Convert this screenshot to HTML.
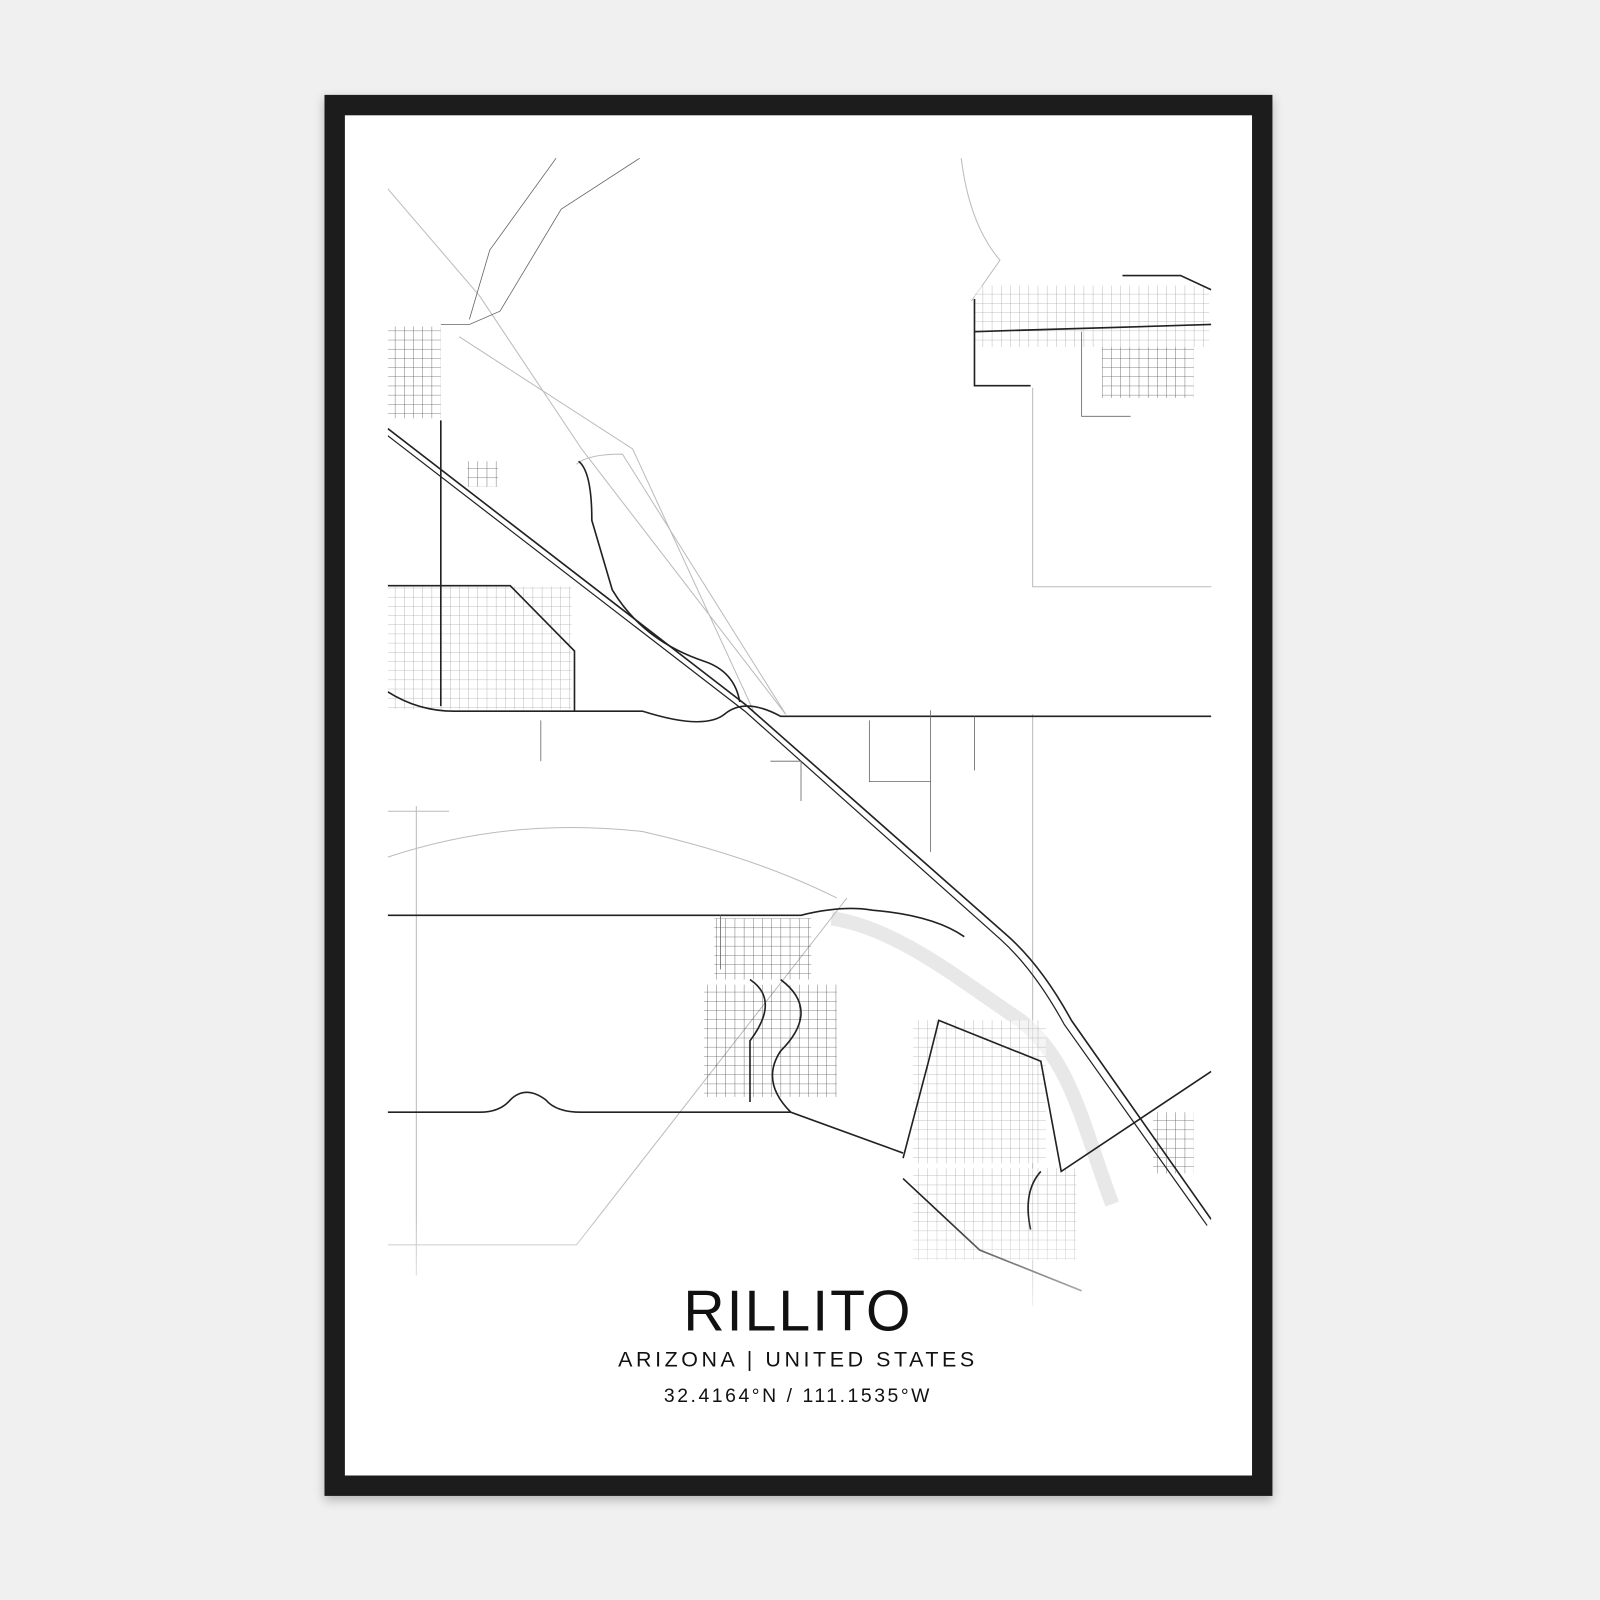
<!DOCTYPE html>
<html><head><meta charset="utf-8"><style>
html,body{margin:0;padding:0;background:#f0f0f0;width:1600px;height:1600px;overflow:hidden}
#w{position:absolute;left:0;top:0;width:1568px;height:1568px;transform:scale(1.0204);transform-origin:0 0}
.frame{position:absolute;left:318px;top:93px;width:929px;height:1373px;background:#1c1c1c;box-shadow:0 4px 10px rgba(0,0,0,.25)}
.paper{position:absolute;left:338px;top:113px;width:889px;height:1333px;background:#fff}
svg{position:absolute;left:0;top:0}
.t{position:absolute;left:0;width:1564px;text-align:center;font-family:"Liberation Sans",sans-serif;color:#111}
</style></head><body><div id="w">
<div class="frame"></div><div class="paper"></div>
<svg width="1568" height="1568" viewBox="0 0 1568 1568">
<defs><linearGradient id="fade" x1="0" y1="0" x2="0" y2="1"><stop offset="0" stop-color="#fff" stop-opacity="0"/><stop offset="1" stop-color="#fff" stop-opacity="1"/></linearGradient>
<pattern id="grid" width="9" height="9" patternUnits="userSpaceOnUse"><path d="M0 0H9M0 0V9" stroke="#444" stroke-width="0.8" fill="none"/></pattern>
<clipPath id="c"><rect x="380" y="155" width="807" height="1160"/></clipPath></defs>
<g clip-path="url(#c)">
<path d="M815 900 C880 910 940 960 1000 1000 C1050 1040 1060 1100 1090 1180" stroke="#e8e8e8" stroke-width="14" fill="none"/>
<g stroke="#bbb" stroke-width="1" fill="none">
<path d="M380 185 L470 290 L570 440 L770 700"/>
<path d="M450 330 L620 440 L740 700"/>
<path d="M565 455 Q575 445 610 445 L770 700"/>
<path d="M1012 700 V1280"/><path d="M1012 380 V575 H1190"/>
<path d="M380 1220 H565 L830 880"/>
<path d="M408 790 V1250"/><path d="M380 795 H440"/>
<path d="M380 840 Q500 800 630 815 Q740 840 820 880"/>
<path d="M942 155 Q950 220 980 255 L952 295"/>
</g>
<g fill="url(#grid)" opacity="0.9">
<rect x="380" y="320" width="52" height="90"/>
<rect x="380" y="575" width="180" height="120"/>
<rect x="700" y="900" width="95" height="60"/>
<rect x="690" y="965" width="130" height="110"/>
<rect x="895" y="1000" width="130" height="140"/>
<rect x="895" y="1145" width="160" height="90"/>
<rect x="955" y="280" width="230" height="60"/>
<rect x="1080" y="340" width="90" height="50"/>
<rect x="1130" y="1090" width="40" height="60"/>
<rect x="458" y="452" width="30" height="25"/>
</g>
<g fill="#fff" opacity="0.5"><rect x="380" y="575" width="180" height="120"/><rect x="895" y="1000" width="130" height="140"/><rect x="895" y="1145" width="160" height="90"/><rect x="955" y="280" width="230" height="60"/></g>
<g stroke="#222" stroke-width="1.6" fill="none">
<path d="M380 420 L730 690 L985 915 Q1020 945 1050 1000 L1187 1195"/>
<path d="M380 427 L730 697 L981 921 Q1014 951 1043 1004 L1183 1201" stroke-width="1.2"/>
<path d="M380 678 Q410 697 445 697 L630 697 Q690 716 710 700 Q730 683 765 702 L1187 702"/>
<path d="M432 412 V692"/><path d="M567 452 Q580 462 580 510 L600 578 Q630 628 690 648 Q720 658 725 688"/>
<path d="M380 574 H500 L563 638 V697"/>
<path d="M380 897 H785 Q825 887 855 892 Q915 897 945 918"/>
<path d="M380 1090 H470 Q490 1090 500 1078 Q515 1063 535 1078 Q545 1090 570 1090 H775 L885 1130"/>
<path d="M885 1135 L910 1040 L920 1000 L1020 1040 L1040 1148 L1187 1050"/>
<path d="M1020 1148 Q1002 1168 1010 1205"/>
<path d="M885 1155 L960 1225 L1060 1265"/>
<path d="M955 325 L1187 318"/><path d="M955 293 V378 H1010"/>
<path d="M1100 270 H1157 L1187 284"/>
<path d="M765 960 Q805 990 765 1030 Q745 1060 775 1090"/>
<path d="M735 960 Q765 980 735 1020 V1080"/>
</g>
<g stroke="#666" stroke-width="0.8" fill="none">
<path d="M1060 325 V408 H1108"/><path d="M852 706 V766 H912"/><path d="M912 696 V835"/><path d="M955 702 V755"/>
<path d="M530 706 V746"/><path d="M755 746 H785 V785"/><path d="M706 897 V950"/>
<path d="M627 155 L550 205 L490 305 L460 318 H432"/><path d="M545 155 L480 245 L460 313"/>
</g>
<rect x="380" y="1190" width="810" height="120" fill="url(#fade)"/>
</g>
</svg>
<div class="t" style="top:1255px;font-size:56px;letter-spacing:2px;line-height:60px">RILLITO</div>
<div class="t" style="top:1321px;font-size:21px;letter-spacing:3.5px;line-height:24px">ARIZONA | UNITED STATES</div>
<div class="t" style="top:1358px;font-size:19px;letter-spacing:2.5px;line-height:22px">32.4164°N / 111.1535°W</div>
</div></body></html>
